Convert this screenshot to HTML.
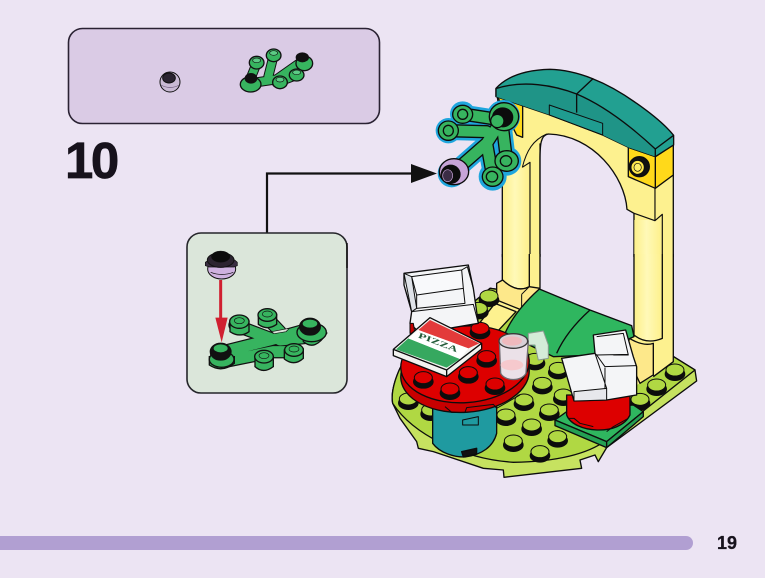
<!DOCTYPE html>
<html><head><meta charset="utf-8"><style>
html,body{margin:0;padding:0;background:#ece4f3}
svg{display:block}
text{font-family:"Liberation Sans",sans-serif;font-weight:bold;fill:#17121c}
</style></head><body>
<svg width="765" height="578" viewBox="0 0 765 578" xmlns="http://www.w3.org/2000/svg">
<defs>
<g id="s"><ellipse cx="0" cy="7" rx="29" ry="19" fill="#0c0c0c"/><ellipse cx="0" cy="-5" rx="27" ry="18" stroke="#0c0c0c" stroke-width="3"/></g>
<linearGradient id="col" x1="0" x2="1" y1="0" y2="0"><stop offset="0" stop-color="#fdf08a"/><stop offset=".45" stop-color="#fff9b8"/><stop offset="1" stop-color="#fdf08a"/></linearGradient>
</defs>
<rect width="765" height="578" fill="#ece4f3"/>

<!-- top parts panel -->
<rect x="68.500" y="28.500" width="311" height="95" rx="14" fill="#dacbe5" stroke="#2a2233" stroke-width="1.600"/>
<g transform="translate(60,20) scale(.3333)" stroke="#111">
 <circle cx="330" cy="186" r="30" fill="#c9bad4" stroke-width="3"/>
 <ellipse cx="327" cy="174" rx="19" ry="15" fill="#2a2430" stroke-width="3"/>
 <path d="M303,195 Q330,210 358,195" fill="none" stroke-width="2" stroke="#6c5a7c"/>
 <g fill="none" stroke="#111" stroke-width="30" stroke-linecap="round">
  <path d="M570,190 L650,178 L725,125 M590,130 L570,180 M640,110 L625,170 M650,188 L710,165"/>
 </g>
 <g fill="none" stroke="#37b45f" stroke-width="24" stroke-linecap="round">
  <path d="M570,190 L650,178 L725,125 M590,130 L570,180 M640,110 L625,170 M650,188 L710,165"/>
 </g>
 <g fill="#37b45f" stroke-width="4">
  <ellipse cx="572" cy="193" rx="31" ry="23"/><ellipse cx="573" cy="175" rx="17" ry="14" fill="#111"/>
  <ellipse cx="590" cy="128" rx="22" ry="19"/><ellipse cx="590" cy="121" rx="12" ry="7" fill="#5ccb85" stroke-width="2"/>
  <ellipse cx="641" cy="106" rx="22" ry="19"/><ellipse cx="641" cy="99" rx="12" ry="7" fill="#5ccb85" stroke-width="2"/>
  <ellipse cx="733" cy="130" rx="25" ry="22"/><ellipse cx="727" cy="112" rx="18" ry="13" fill="#111"/>
  <ellipse cx="660" cy="187" rx="22" ry="19"/><ellipse cx="660" cy="179" rx="12" ry="7" fill="#5ccb85" stroke-width="2"/>
  <ellipse cx="710" cy="165" rx="22" ry="18"/><ellipse cx="710" cy="157" rx="12" ry="7" fill="#5ccb85" stroke-width="2"/>
 </g>
</g>

<text x="65" y="178" font-size="51" letter-spacing="-2.500" stroke="#17121c" stroke-width=".7">10</text>

<!-- connector -->
<path d="M267,234 V173.500 H415" fill="none" stroke="#111" stroke-width="2.200"/>
<path d="M411,164 L437,173.500 L411,183 Z" fill="#111"/>

<!-- sub panel -->
<rect x="187" y="233" width="160" height="160" rx="14" fill="#dbe6da" stroke="#25252a" stroke-width="1.600"/>
<path d="M347,243 V268" stroke="#111" stroke-width="1.500"/>
<g transform="translate(180,225) scale(.3333)" stroke="#111">
 <path d="M110,385 L270,345 L395,310 M165,300 L270,340 M262,280 L300,320 M130,410 L280,380 L345,380 M400,335 L300,345" fill="none" stroke="#111" stroke-width="40" stroke-linecap="round"/>
 <path d="M110,385 L270,345 L395,310 M165,300 L270,340 M262,280 L300,320 M130,410 L280,380 L345,380 M400,335 L300,345" fill="none" stroke="#37b45f" stroke-width="33" stroke-linecap="round"/>
 <path d="M275,320 L328,310 L318,320 L282,326 Z" fill="#dbe6da" stroke-width="2"/>
 <g fill="#37b45f" stroke-width="4">
  <path d="M88,395 V420 Q125,445 163,415 V395 Z"/><ellipse cx="125" cy="403" rx="37" ry="24"/><ellipse cx="122" cy="380" rx="31" ry="25" fill="#111"/><ellipse cx="122" cy="370" rx="23" ry="14" fill="#37b45f"/>
  <path d="M150,288 V320 Q180,340 207,320 V288 Z"/><ellipse cx="178" cy="290" rx="29" ry="20"/><ellipse cx="178" cy="287" rx="15" ry="9" stroke-width="2"/>
  <path d="M235,268 V298 Q262,318 290,298 V268 Z"/><ellipse cx="262" cy="270" rx="28" ry="19"/><ellipse cx="262" cy="267" rx="15" ry="9" stroke-width="2"/>
  <path d="M225,395 V425 Q250,448 280,425 V395 Z"/><ellipse cx="252" cy="395" rx="28" ry="19"/><ellipse cx="252" cy="392" rx="15" ry="9" stroke-width="2"/>
  <path d="M313,375 V402 Q342,425 370,400 V372 Z"/><ellipse cx="342" cy="375" rx="28" ry="19"/><ellipse cx="342" cy="372" rx="15" ry="9" stroke-width="2"/>
  <path d="M370,325 V350 Q405,380 440,325 Z"/><ellipse cx="395" cy="322" rx="44" ry="28"/><ellipse cx="390" cy="305" rx="31" ry="25" fill="#111"/><ellipse cx="390" cy="296" rx="24" ry="14" fill="#37b45f"/>
 </g>
 <path d="M122,165 V290" stroke="#d01f30" stroke-width="9" fill="none"/>
 <path d="M106,278 H143 L125,352 Z" fill="#d01f30" stroke="none"/>
 <ellipse cx="125" cy="132" rx="42" ry="30" fill="#cfb2e0" stroke-width="3"/>
 <path d="M92,142 Q125,155 160,142" fill="none" stroke-width="2"/>
 <path d="M76,112 L86,105 H164 L172,112 V122 L162,126 H88 L76,122 Z" fill="#3a2e42" stroke-width="2"/>
 <ellipse cx="122" cy="105" rx="40" ry="22" fill="#2c2430" stroke-width="3"/>
 <ellipse cx="122" cy="95" rx="28" ry="17" fill="#0c0c0c"/>
</g>

<!-- arch -->
<g transform="translate(380,60) scale(.3333)" stroke="#0d0d0d" stroke-width="4" stroke-linejoin="round">
 <path d="M367,590 V200 L350,100 L826,285 L880,250 V590 H762 V460 L741,448 C735,350 640,225 505,222 C482,225 480,255 480,300 V590 Z" fill="#fdf18f"/>
 <path d="M500,222 C460,240 440,270 427,322" fill="none" stroke-width="3"/>
 <rect x="369" y="325" width="80" height="265" fill="url(#col)" stroke="none"/>
 <rect x="763" y="480" width="82" height="110" fill="url(#col)" stroke="none"/>
 <path d="M762,460 L825,482 L847,463 V590 M825,290 V482 M427,322 L450,307 V590 M480,250 V590" fill="none" stroke-width="3.500"/>
 <path d="M826,290 L880,255 V345 L826,385 Z" fill="#ffd91a"/>
 <path d="M745,262 L826,290 V385 L745,350 Z" fill="#ffd91a"/>
 <path d="M350,105 L428,135 V232 L410,225 Z" fill="#ffd91a"/>
 <ellipse cx="778" cy="320" rx="30" ry="30" fill="#111"/>
 <ellipse cx="773" cy="322" rx="20" ry="21" fill="#ffe84a" stroke-width="3"/>
 <ellipse cx="773" cy="322" rx="11" ry="12" fill="#fff06a" stroke-width="2"/>
 <!-- teal top -->
 <path d="M348,85 C380,50 430,30 510,28 C590,30 680,65 770,130 C820,165 860,200 881,226 V255 L826,290 L745,262 L668,225 L510,165 L348,110 Z" fill="#22a091"/>
 <path d="M350,85 C430,60 520,75 590,102 C680,140 770,215 826,267 V290 L745,262 L668,225 L510,165 L348,110 Z" fill="#1f9487" stroke="none"/>
 <path d="M350,85 C430,60 520,75 590,102 C680,140 770,215 826,267 V290 M826,267 L881,226 M640,55 L590,102 V158 M348,85 V110" fill="none"/>
 <path d="M508,135 L668,190 V225 L508,165 Z" fill="#1f9c90" stroke-width="3"/>
</g>

<!-- base and table -->
<g transform="translate(380,255) scale(.3333)" stroke="#0c0c0c" stroke-width="4" stroke-linejoin="round">
 <!-- base plate -->
 <path d="M38,445 C30,400 60,330 80,310 L330,100 L480,120 L760,230 L945,345 L950,378 L680,578 L655,620 L645,600 L600,615 L605,640 L372,667 L370,645 L310,640 L160,590 L115,580 L110,560 L60,490 Z" fill="#c6e260"/>
 <path d="M38,445 C30,400 60,330 80,310 L330,100 L480,120 L760,230 L945,345 L680,555 C620,600 520,620 400,622 C250,612 100,540 38,445 Z" fill="#b0d843"/>
 <!-- yellow columns bases -->
 <path d="M367,-3 V75 L350,85 V135 L298,205 L350,232 L408,170 L425,165 L480,100 V-3 Z" fill="#fdf18f" stroke="none"/>
 <path d="M369,-3 V75 Q410,115 448,95 V-3 Z" fill="url(#col)" stroke="none"/>
 <path d="M367,-3 V75 Q410,115 448,95 V-3 M480,-3 V100" fill="none"/>
 <path d="M350,85 L368,75 Q410,115 448,95 L480,100 L425,165 L350,135 Z" fill="#fde88a"/>
 <path d="M425,118 V165 M425,118 L448,95" fill="none" stroke-width="3"/>
 <path d="M345,145 L408,170 L350,232 L298,205 Z" fill="#fdf18f"/>
 <path d="M762,-3 H880 V320 L820,365 L770,390 L740,235 L762,220 Z" fill="#fdf18f" stroke="none"/>
 <path d="M764,-3 V245 Q800,270 847,250 V-3 Z" fill="url(#col)" stroke="none"/>
 <path d="M762,-3 V240 Q800,270 847,250 V-3 M880,-3 V320 L820,365 M820,265 V362" fill="none"/>
 <path d="M748,250 Q790,275 820,265 V360 L780,385 L740,300 Z" fill="#fde88a"/>
 <!-- green slopes -->
 <path d="M478,102 L630,165 L755,212 L762,245 L640,300 L520,305 L375,235 C395,190 430,145 478,102 Z" fill="#2fb65f"/>
 <path d="M630,165 C580,210 550,250 530,295" fill="none"/>
 <!-- studs -->
 <use href="#s" x="327" y="128" fill="#b0d843"/>
 <use href="#s" x="295" y="165" fill="#b0d843"/>
 <use href="#s" x="465" y="318" fill="#b0d843"/>
 <use href="#s" x="535" y="345" fill="#b0d843"/>
 <use href="#s" x="487" y="390" fill="#b0d843"/>
 <use href="#s" x="432" y="440" fill="#b0d843"/>
 <use href="#s" x="550" y="425" fill="#b0d843"/>
 <use href="#s" x="508" y="470" fill="#b0d843"/>
 <use href="#s" x="378" y="485" fill="#b0d843"/>
 <use href="#s" x="455" y="515" fill="#b0d843"/>
 <use href="#s" x="400" y="563" fill="#b0d843"/>
 <use href="#s" x="533" y="550" fill="#b0d843"/>
 <use href="#s" x="480" y="595" fill="#b0d843"/>
 <use href="#s" x="780" y="438" fill="#b0d843"/>
 <use href="#s" x="830" y="395" fill="#b0d843"/>
 <use href="#s" x="885" y="350" fill="#b0d843"/>
 <use href="#s" x="85" y="437" fill="#b0d843"/>
 <use href="#s" x="152" y="470" fill="#b0d843"/>
 <!-- right chair stand -->
 <path d="M525,495 L560,470 L760,450 L790,470 L680,560 Z" fill="#2fb65f"/>
 <path d="M525,495 V512 L680,578 V560 Z" fill="#24a053"/>
 <path d="M680,560 L790,470 V485 L680,578 Z" fill="#24a053"/>
 <path d="M560,420 V480 C580,535 720,545 750,480 V420 Z" fill="#dd0000"/>
 <path d="M565,490 L582,490 L600,505 L640,515 M680,530 L700,515 L745,490" fill="none" stroke-width="3"/>
 <!-- right chair -->
 <path d="M640,240 L737,225 L760,305 L770,335 V420 L680,435 L582,438 L545,310 L645,295 Z" fill="#f4f5f7"/>
 <path d="M645,295 L650,300 L745,298 M650,300 L675,335 L770,332 M675,338 V435 M645,295 L680,400 M650,245 L730,235 L745,300 L700,300" fill="none" stroke-width="3"/>
 <path d="M582,410 L680,400 V435 L582,438 Z" fill="#e7e8ec" stroke-width="3"/>
 <!-- glass handle -->
 <path d="M445,235 L490,228 L505,270 V310 L475,315 L465,270 L445,270 Z" fill="#d4ecd8" stroke="#8a9a90" stroke-width="3"/>
 <!-- teal stand -->
 <path d="M158,460 V565 C180,595 225,607 255,606 C305,600 340,575 350,535 V450 Z" fill="#1f9aa0"/>
 <path d="M248,495 L295,485 V510 L248,510 Z" fill="none" stroke-width="3"/>
 <path d="M245,590 L290,580 V597 L250,606 Z" fill="#111"/>
 <!-- table -->
 <ellipse cx="255" cy="357" rx="193" ry="115" fill="#c80000" transform="rotate(-4 255 357)"/>
 <ellipse cx="255" cy="328" rx="193" ry="115" fill="#dd0000" transform="rotate(-4 255 328)"/>
 <path d="M195,455 L215,472 L255,472 L260,458 L340,448 L350,460 L420,420" fill="none" stroke-width="3"/>
 <use href="#s" x="300" y="225" fill="#dd0000"/>
 <use href="#s" x="320" y="310" fill="#dd0000"/>
 <use href="#s" x="265" y="358" fill="#dd0000"/>
 <use href="#s" x="130" y="373" fill="#dd0000"/>
 <use href="#s" x="210" y="407" fill="#dd0000"/>
 <use href="#s" x="345" y="392" fill="#dd0000"/>
 <!-- left chair -->
 <path d="M72,55 L265,30 L280,100 L295,205 L120,235 L90,205 L95,170 L72,90 Z" fill="#f4f5f7"/>
 <path d="M95,65 L245,45 L250,100 L110,120 Z" fill="#f8f9fb" stroke-width="3"/>
 <path d="M245,45 L262,35 L280,100 M110,120 L110,160 L255,145 L250,100 M95,170 L280,148 L295,205" fill="none" stroke-width="3"/>
 <path d="M72,55 L95,65 L110,160 L95,170 Z" fill="#dfe2e8" stroke-width="3"/>
 <path d="M90,205 V235 L105,235 L100,205 Z" fill="#c40000" stroke-width="3"/>
 <!-- pizza box -->
 <path d="M40,283 L150,188 L305,265 V282 L200,365 L40,302 Z" fill="#f2f2ef"/>
 <path d="M40,283 L200,345 L305,265 M200,345 V365" fill="none"/>
 <path d="M48,283 L85,250 L240,312 L200,338 Z" fill="#36a85f" stroke="none"/>
 <path d="M115,225 L150,195 L298,265 L265,280 Z" fill="#e33a3a" stroke="none"/>
 <path d="M85,250 L115,225 L265,280 L240,312 Z" fill="#fff" stroke="none"/>
 <text x="0" y="0" transform="translate(113,247) rotate(21)" font-size="24" style="font-family:'Liberation Serif',serif;fill:#245c3a;stroke:none" textLength="125" lengthAdjust="spacingAndGlyphs">PIZZA</text>
 <!-- glass -->
 <path d="M358,258 L362,355 C375,380 425,380 438,355 L445,258 Z" fill="#ebe1e8" stroke="#6f6a70" stroke-width="4"/>
 <ellipse cx="400" cy="258" rx="43" ry="22" fill="#d8d0d6" stroke="#3a3a3a" stroke-width="4"/>
 <ellipse cx="396" cy="258" rx="30" ry="14" fill="#efb9bd" stroke="none"/>
 <ellipse cx="396" cy="330" rx="34" ry="16" fill="#f6c9cd" stroke="none"/>
</g>

<!-- branch on arch -->
<g transform="translate(380,60) scale(.3333)" stroke-linecap="round" fill="none">
 <path d="M250,160 L360,170 L320,215 Z M365,200 L380,300 L338,340 L335,260 Z" fill="#1fa6dd" stroke="none"/>
 <g stroke="#1fa6dd" stroke-width="56">
  <path d="M248,162 L365,180 M205,212 L320,215 M365,180 L320,250 L240,320 M365,180 L380,303 M320,250 L338,350"/>
 </g>
 <g fill="#1fa6dd" stroke="none"><circle cx="370" cy="170" r="50"/><circle cx="215" cy="340" r="42"/><circle cx="380" cy="303" r="44"/><circle cx="338" cy="350" r="42"/><circle cx="248" cy="162" r="38"/><circle cx="205" cy="212" r="38"/></g>
 <g stroke="#0c0c0c" stroke-width="40">
  <path d="M248,162 L365,180 M205,212 L320,215 M365,180 L320,250 L240,320 M365,180 L380,303 M320,250 L338,350"/>
 </g>
 <g stroke="#37b45f" stroke-width="32">
  <path d="M248,162 L365,180 M205,212 L320,215 M365,180 L320,250 L240,320 M365,180 L380,303 M320,250 L338,350"/>
 </g>
 <g fill="#37b45f" stroke="#0c0c0c" stroke-width="4">
  <ellipse cx="248" cy="163" rx="30" ry="27"/><ellipse cx="248" cy="163" rx="15" ry="15"/>
  <ellipse cx="205" cy="212" rx="30" ry="29"/><ellipse cx="205" cy="212" rx="15" ry="16"/>
  <ellipse cx="372" cy="170" rx="44" ry="42"/><ellipse cx="368" cy="172" rx="30" ry="28" fill="#0c0c0c"/><ellipse cx="352" cy="183" rx="20" ry="20"/>
  <ellipse cx="380" cy="303" rx="35" ry="31"/><ellipse cx="378" cy="303" rx="17" ry="16"/>
  <ellipse cx="338" cy="350" rx="31" ry="29"/><ellipse cx="336" cy="350" rx="17" ry="16"/>
 </g>
 <ellipse cx="222" cy="335" rx="44" ry="39" fill="#c7a4d8" stroke="#0c0c0c" stroke-width="4"/>
 <ellipse cx="212" cy="343" rx="30" ry="29" fill="#0c0c0c"/>
 <ellipse cx="203" cy="347" rx="15" ry="18" fill="#3b2c45" stroke="#c7a4d8" stroke-width="2"/>
</g>

<!-- footer -->
<path d="M0,536 H686 A7,7 0 0 1 686,550 H0 Z" fill="#b19fd2"/>
<text x="717" y="549" font-size="18" textLength="20" lengthAdjust="spacingAndGlyphs" stroke="#17121c" stroke-width=".3">19</text>
</svg>
</body></html>
